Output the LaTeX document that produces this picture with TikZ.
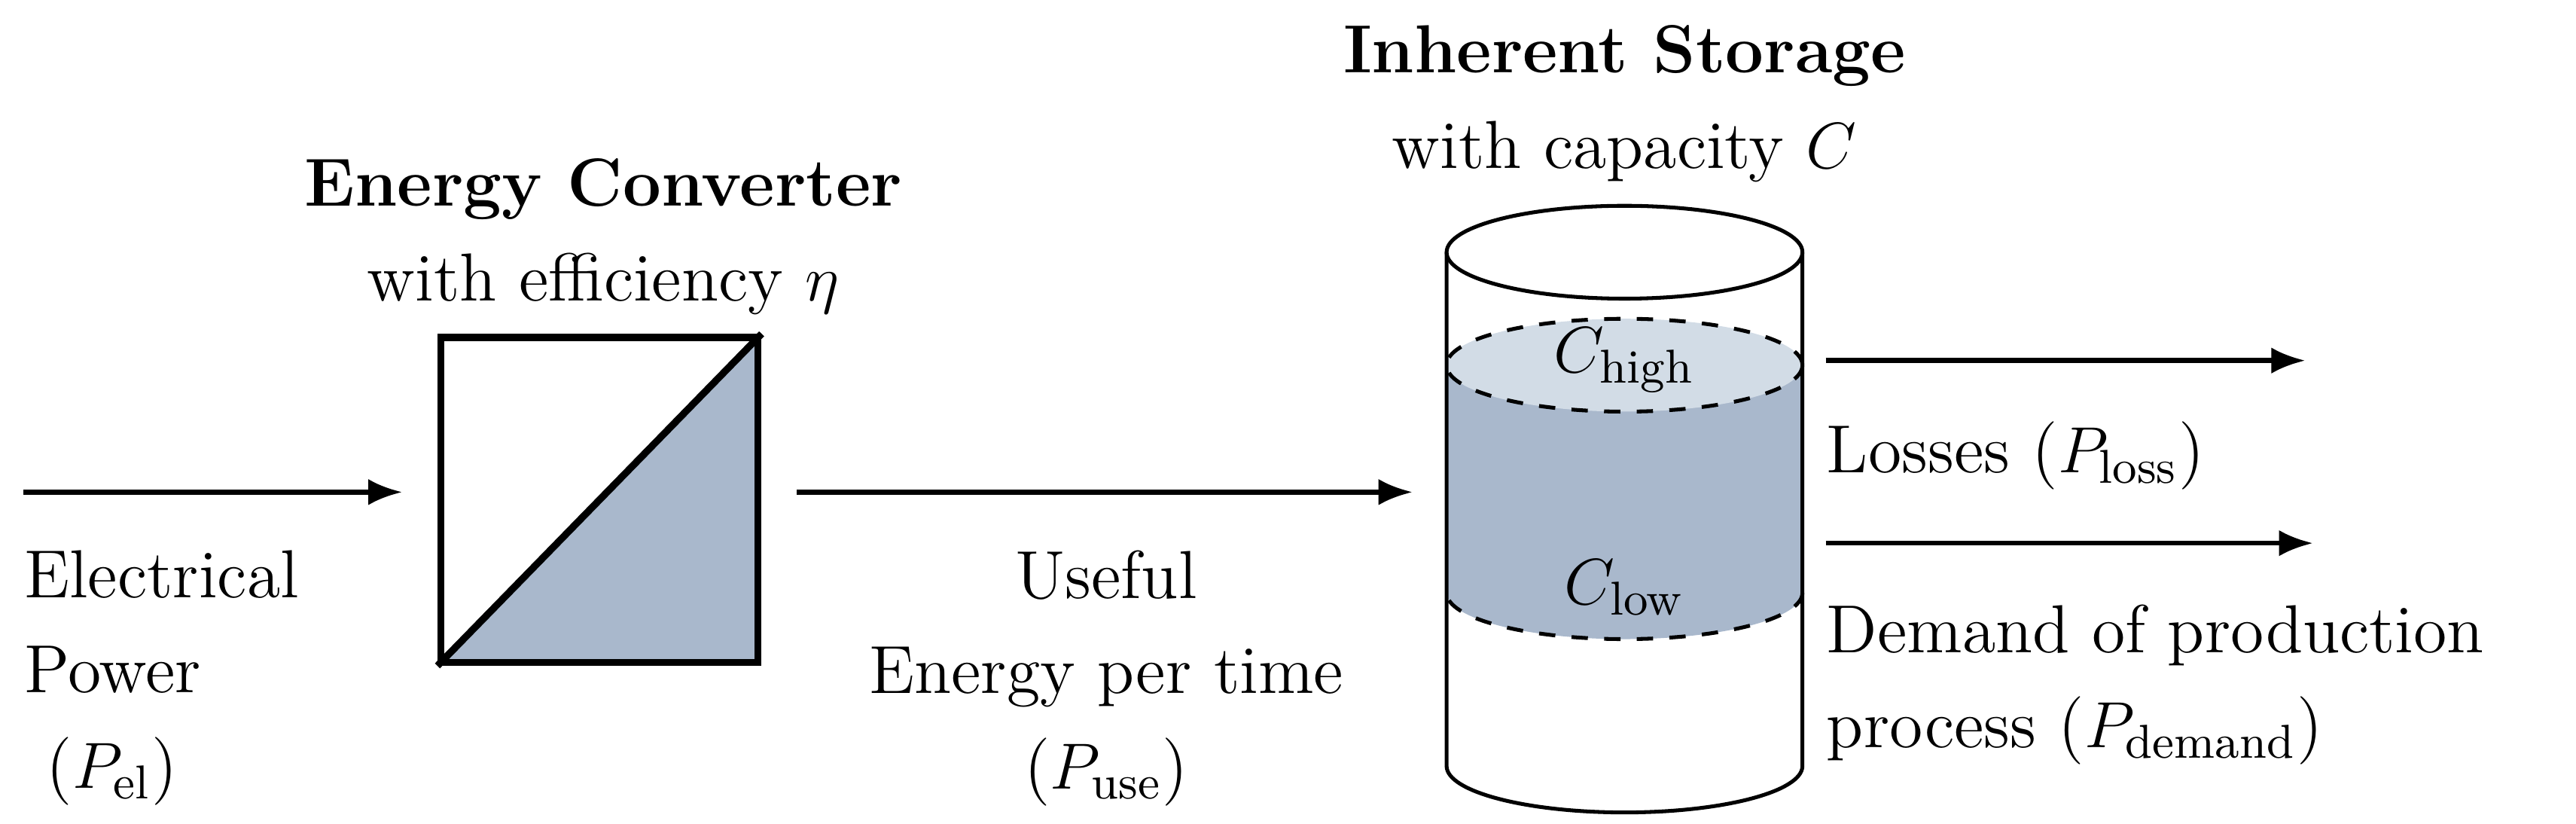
\documentclass[tikz,border=0pt]{standalone}
\usepackage{amsmath}
\usepackage{amssymb}
\usetikzlibrary{arrows.meta}
\definecolor{fillA}{HTML}{A9B8CC}
\definecolor{fillB}{HTML}{D2DCE6}
\tikzset{
    flow/.style={-{Latex[length=2.2mm,width=1.7mm]},line width=0.9pt},
    txt/.style={font=\fontsize{12.5}{17.5}\selectfont,inner sep=0pt},
}
\begin{document}
\begin{tikzpicture}
    \useasboundingbox (-0.05,5.65) rectangle (16.6,10.97);

    % converter
    \fill[fillA] (2.8,6.69) -- (4.85,6.69) -- (4.85,8.79) -- cycle;
    \node[shape=rectangle,draw=black,line width=1.3pt,minimum width=2.05cm,minimum height=2.1cm] (B) at (3.825,7.74) {};
    \draw[line width=1.3pt] (B.south west) -- (B.north east);
    \node[txt,align=center] (BT) at (3.85,9.44) {\textbf{Energy Converter}\\with efficiency $\eta$};

    % storage
    \fill[fillA] (9.3,8.61) -- (11.6,8.61) -- (11.6,7.14) arc (0:-180:1.15 and 0.3) -- cycle;
    \fill[fillB] (10.45,8.61) ellipse (1.15 and 0.3);
    \draw[line width=0.7pt,dashed] (10.45,8.61) ellipse (1.15 and 0.3);
    \draw[line width=0.7pt,dashed] (11.6,7.14) arc (0:-180:1.15 and 0.3);
    \draw[line width=0.7pt] (10.45,9.34) ellipse (1.15 and 0.3);
    \draw[line width=0.7pt] (9.3,9.34) -- (9.3,6.02) arc (-180:0:1.15 and 0.3) -- (11.6,9.34);
    \node[txt] (CH) at (10.45,8.64) {$C_{\text{high}}$};
    \node[txt] (CL) at (10.45,7.17) {$C_{\text{low}}$};
    \node[txt,align=center] (ST) at (10.45,10.3) {\textbf{Inherent Storage}\\with capacity $C$};

    % flows
    \coordinate (IN) at (0.1,7.79);
    \coordinate (B0) at (2.55,7.79);
    \coordinate (B1) at (5.1,7.79);
    \coordinate (S) at (9.08,7.79);
    \coordinate (L0) at (11.75,8.64);
    \coordinate (L1) at (14.85,8.64);
    \coordinate (D0) at (11.75,7.46);
    \coordinate (D1) at (14.9,7.46);
    \path[flow] (IN) edge (B0);
    \path[flow] (B1) edge (S);
    \path[flow] (L0) edge (L1);
    \path[flow] (D0) edge (D1);

    \node[txt,align=left,anchor=north west] (PE) at (0.1,7.42) {Electrical\\Power\\\ ($P_{\text{el}}$)};
    \node[txt,align=center,anchor=north] (PU) at (7.1,7.42) {Useful\\Energy per time\\($P_{\text{use}}$)};
    \node[txt,anchor=north west] (PL) at (11.75,8.25) {Losses ($P_{\text{loss}}$)};
    \node[txt,align=left,anchor=north west] (PD) at (11.75,7.07) {Demand of production\\process ($P_{\text{demand}}$)};
\end{tikzpicture}
\end{document}
